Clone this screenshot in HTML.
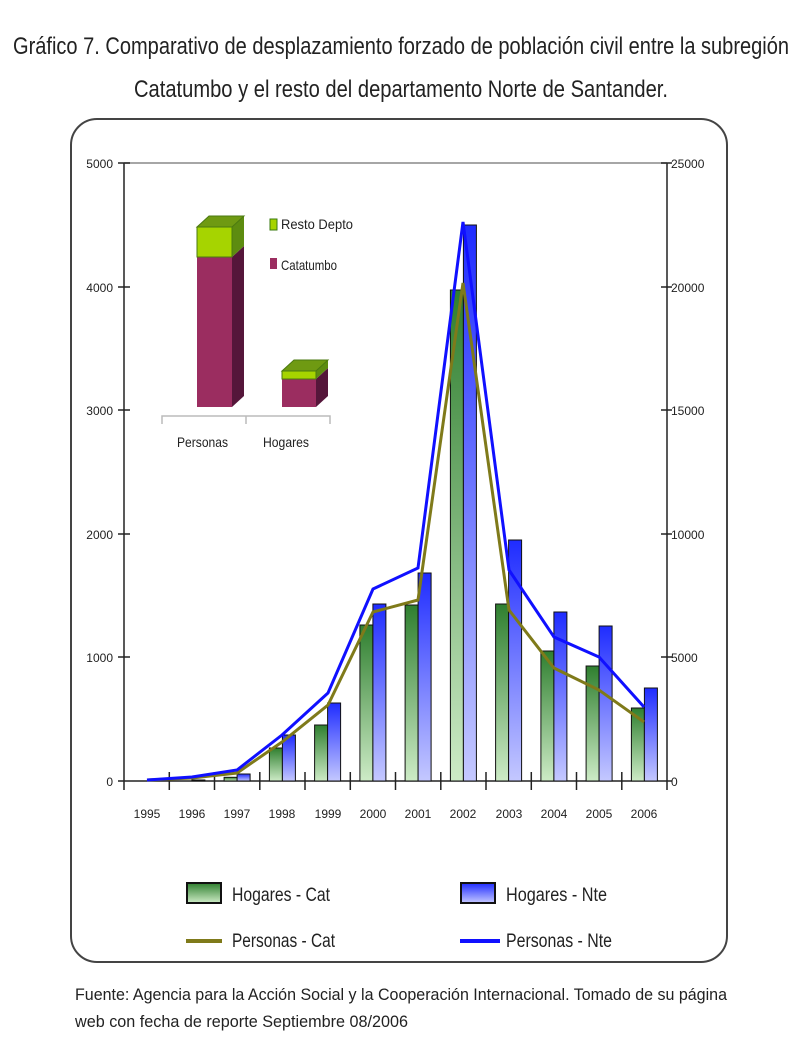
<!DOCTYPE html>
<html><head><meta charset="utf-8"><style>
body{margin:0;background:#fff}
svg{display:block}
text{font-family:"Liberation Sans",sans-serif}
</style></head><body>
<svg width="802" height="1060" viewBox="0 0 802 1060" xmlns="http://www.w3.org/2000/svg">
<defs>
<linearGradient id="gg" x1="0" y1="0" x2="0" y2="1"><stop offset="0" stop-color="#2f7f2f"/><stop offset="1" stop-color="#cdebc6"/></linearGradient>
<linearGradient id="bg" x1="0" y1="0" x2="0" y2="1"><stop offset="0" stop-color="#1f2cff"/><stop offset="1" stop-color="#c4c8ff"/></linearGradient>
</defs>
<text x="401" y="54" font-size="24" text-anchor="middle" textLength="776" lengthAdjust="spacingAndGlyphs" fill="#222">Gráfico 7. Comparativo de desplazamiento forzado de población civil entre la subregión</text>
<text x="401" y="97" font-size="24" text-anchor="middle" textLength="534" lengthAdjust="spacingAndGlyphs" fill="#222">Catatumbo y el resto del departamento Norte de Santander.</text>
<rect x="71" y="119" width="656" height="843" rx="26" fill="#fff" stroke="#444" stroke-width="2"/>
<!-- axes -->
<g stroke="#222" stroke-width="1.5">
<line x1="124" y1="163" x2="124" y2="790"/>
<line x1="667" y1="163" x2="667" y2="790"/>
<line x1="124" y1="163" x2="667" y2="163" stroke="#888"/>
<line x1="118" y1="781" x2="672" y2="781"/>
<line x1="118" y1="163" x2="130" y2="163"/><line x1="118" y1="287" x2="130" y2="287"/><line x1="118" y1="410" x2="130" y2="410"/><line x1="118" y1="534" x2="130" y2="534"/><line x1="118" y1="657" x2="130" y2="657"/>
<line x1="661" y1="163" x2="672" y2="163"/><line x1="661" y1="287" x2="672" y2="287"/><line x1="661" y1="410" x2="672" y2="410"/><line x1="661" y1="534" x2="672" y2="534"/><line x1="661" y1="657" x2="672" y2="657"/>
<line x1="169.3" y1="772" x2="169.3" y2="790"/><line x1="214.5" y1="772" x2="214.5" y2="790"/><line x1="259.8" y1="772" x2="259.8" y2="790"/><line x1="305" y1="772" x2="305" y2="790"/><line x1="350.3" y1="772" x2="350.3" y2="790"/><line x1="395.5" y1="772" x2="395.5" y2="790"/><line x1="440.8" y1="772" x2="440.8" y2="790"/><line x1="486" y1="772" x2="486" y2="790"/><line x1="531.3" y1="772" x2="531.3" y2="790"/><line x1="576.5" y1="772" x2="576.5" y2="790"/><line x1="621.8" y1="772" x2="621.8" y2="790"/>
</g>
<g font-size="12" fill="#222" text-anchor="end">
<text x="113" y="168">5000</text><text x="113" y="292">4000</text><text x="113" y="415">3000</text><text x="113" y="539">2000</text><text x="113" y="662">1000</text><text x="113" y="786">0</text>
</g>
<g font-size="12" fill="#222" text-anchor="start">
<text x="671" y="168">25000</text><text x="671" y="292">20000</text><text x="671" y="415">15000</text><text x="671" y="539">10000</text><text x="671" y="662">5000</text><text x="671" y="786">0</text>
</g>
<g font-size="12" fill="#222" text-anchor="middle">
<text x="147" y="818">1995</text><text x="192" y="818">1996</text><text x="237" y="818">1997</text><text x="282" y="818">1998</text><text x="328" y="818">1999</text><text x="373" y="818">2000</text><text x="418" y="818">2001</text><text x="463" y="818">2002</text><text x="509" y="818">2003</text><text x="554" y="818">2004</text><text x="599" y="818">2005</text><text x="644" y="818">2006</text>
</g>
<!-- green bars -->
<g fill="url(#gg)" stroke="#111" stroke-width="1">
<rect x="224.1" y="777.3" width="13" height="3.7"/>
<rect x="269.4" y="748" width="13" height="33"/>
<rect x="314.6" y="725" width="13" height="56"/>
<rect x="359.9" y="625" width="13" height="156"/>
<rect x="405.1" y="605" width="13" height="176"/>
<rect x="450.4" y="290" width="13" height="491"/>
<rect x="495.6" y="604" width="13" height="177"/>
<rect x="540.9" y="651" width="13" height="130"/>
<rect x="586.1" y="666" width="13" height="115"/>
<rect x="631.4" y="708" width="13" height="73"/>
</g>
<g fill="url(#bg)" stroke="#111" stroke-width="1">
<rect x="191.9" y="780" width="13" height="1"/>
<rect x="237.1" y="774" width="13" height="7"/>
<rect x="282.4" y="735" width="13" height="46"/>
<rect x="327.6" y="703" width="13" height="78"/>
<rect x="372.9" y="604" width="13" height="177"/>
<rect x="418.1" y="573" width="13" height="208"/>
<rect x="463.4" y="225" width="13" height="556"/>
<rect x="508.6" y="540" width="13" height="241"/>
<rect x="553.9" y="612" width="13" height="169"/>
<rect x="599.1" y="626" width="13" height="155"/>
<rect x="644.4" y="688" width="13" height="93"/>
</g>
<polyline fill="none" stroke="#7f7a1a" stroke-width="3" points="147,780 192,778 237,773 282,742 328,705 373,612 418,600 463,283 509,610 554,668 599,690 644,722"/>
<polyline fill="none" stroke="#1010ff" stroke-width="3" points="147,780 192,777 237,770 282,735 328,693 373,589 418,568 463,222 509,570 554,637 599,657 644,707"/>
<!-- inset -->
<polygon points="232,257 244,246 244,396 232,407" fill="#55163a"/>
<polygon points="232,227 244,216 244,246 232,257" fill="#5d8c10"/>
<polygon points="197,227 209,216 244,216 232,227" fill="#6f9a12" stroke="#4b7a10" stroke-width="1"/>
<rect x="197" y="257" width="35" height="150" fill="#9b2d60"/>
<rect x="197" y="227" width="35" height="30" fill="#a6d400" stroke="#4b7a10" stroke-width="1"/>
<polygon points="316,379 328,368 328,396 316,407" fill="#55163a"/>
<polygon points="316,371 328,360 328,368 316,379" fill="#5d8c10"/>
<polygon points="282,371 294,360 328,360 316,371" fill="#6f9a12" stroke="#4b7a10" stroke-width="1"/>
<rect x="282" y="379" width="34" height="28" fill="#9b2d60"/>
<rect x="282" y="371" width="34" height="8" fill="#a6d400" stroke="#4b7a10" stroke-width="1"/>
<g stroke="#bbb" stroke-width="1.5" fill="none"><polyline points="162,424 162,416 330,416 330,424"/><line x1="246" y1="416" x2="246" y2="424"/></g>
<text x="177" y="447" font-size="14" fill="#222" textLength="51" lengthAdjust="spacingAndGlyphs">Personas</text>
<text x="263" y="447" font-size="14" fill="#222" textLength="46" lengthAdjust="spacingAndGlyphs">Hogares</text>
<rect x="270" y="219" width="7" height="11" fill="#a6d400" stroke="#3a7a10"/>
<text x="281" y="229" font-size="14" fill="#222" textLength="72" lengthAdjust="spacingAndGlyphs">Resto Depto</text>
<rect x="270" y="258" width="7" height="11" fill="#9b2d60"/>
<text x="281" y="270" font-size="14" fill="#222" textLength="56" lengthAdjust="spacingAndGlyphs">Catatumbo</text>
<!-- legend -->
<rect x="187" y="883" width="34" height="20" fill="url(#gg)" stroke="#111" stroke-width="2"/>
<text x="232" y="901" font-size="19" fill="#222" textLength="98" lengthAdjust="spacingAndGlyphs">Hogares - Cat</text>
<rect x="461" y="883" width="34" height="20" fill="url(#bg)" stroke="#111" stroke-width="2"/>
<text x="506" y="901" font-size="19" fill="#222" textLength="101" lengthAdjust="spacingAndGlyphs">Hogares - Nte</text>
<line x1="186" y1="941" x2="222" y2="941" stroke="#7f7a1a" stroke-width="4"/>
<text x="232" y="947" font-size="19" fill="#222" textLength="103" lengthAdjust="spacingAndGlyphs">Personas - Cat</text>
<line x1="460" y1="941" x2="500" y2="941" stroke="#1010ff" stroke-width="4"/>
<text x="506" y="947" font-size="19" fill="#222" textLength="106" lengthAdjust="spacingAndGlyphs">Personas - Nte</text>
<text x="75" y="1000" font-size="17" fill="#222" textLength="652" lengthAdjust="spacingAndGlyphs">Fuente: Agencia para la Acción Social y la Cooperación Internacional. Tomado de su página</text>
<text x="75" y="1027" font-size="17" fill="#222" textLength="333" lengthAdjust="spacingAndGlyphs">web con fecha de reporte Septiembre 08/2006</text>
</svg>
</body></html>
